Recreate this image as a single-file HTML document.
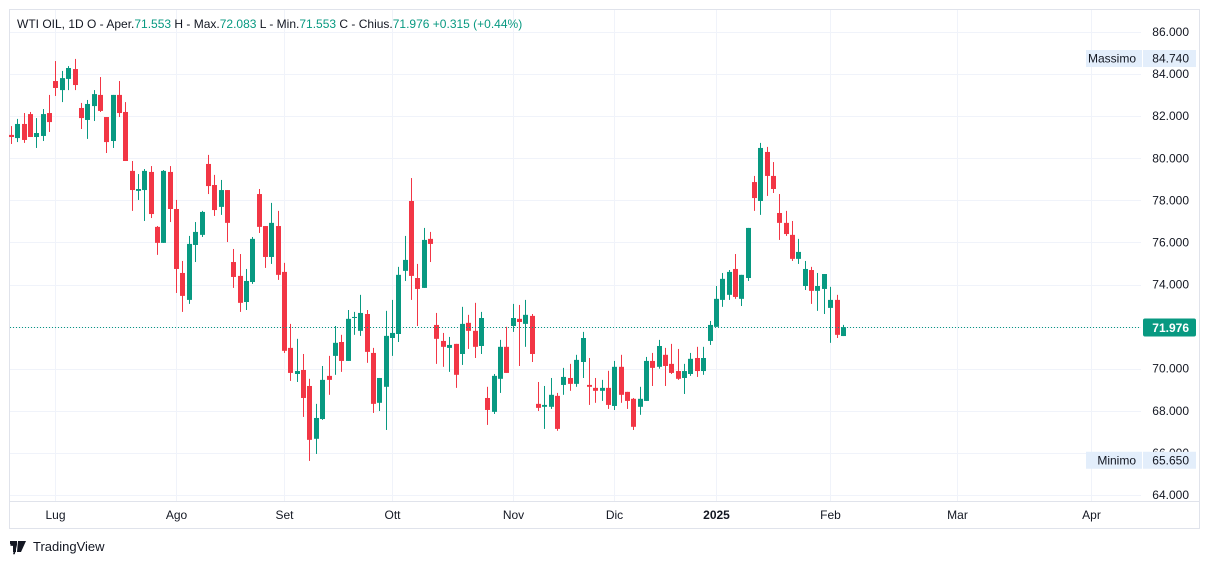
<!DOCTYPE html>
<html><head><meta charset="utf-8">
<style>
html,body{margin:0;padding:0;background:#fff;width:1209px;height:564px;overflow:hidden;font-family:"Liberation Sans",sans-serif;}
svg text{font-family:"Liberation Sans",sans-serif;}
</style></head>
<body>
<svg id="chart" width="1209" height="564" viewBox="0 0 1209 564" xmlns="http://www.w3.org/2000/svg">
  <rect x="9.5" y="9.5" width="1190" height="519" fill="#fff" stroke="#e0e3eb"/>
  <g id="grid"></g>
  <line x1="10" y1="501.5" x2="1199" y2="501.5" stroke="#e0e3eb"/>
  <g id="candles"></g>
  <g id="yaxis"></g>
  <g id="xaxis"></g>
  <text x="17" y="28" font-size="12" fill="#131722">WTI OIL, 1D  O - Aper.<tspan fill="#089981">71.553</tspan>  H - Max.<tspan fill="#089981">72.083</tspan>  L - Min.<tspan fill="#089981">71.553</tspan>  C - Chius.<tspan fill="#089981">71.976</tspan>  <tspan fill="#089981">+0.315 (+0.44%)</tspan></text>
  <g>
    <text x="10" y="552" font-size="15" font-weight="bold" fill="#131722">⁊</text>
    <rect x="10" y="541" width="7" height="3" fill="#131722"/><rect x="13" y="541" width="3" height="11" fill="#131722"/>
    <polygon points="18,541 26,541 21,552 17,552" fill="#131722"/>
    <text x="33" y="551" font-size="13" fill="#131722">TradingView</text>
  </g>
</svg>
<script>
const open  = [81.11,80.96,81.63,82.10,81.01,81.06,82.15,83.67,83.24,83.77,84.24,82.39,81.82,82.48,83.01,81.96,80.82,83.01,82.20,79.40,78.45,78.49,79.35,76.74,75.98,79.35,77.59,74.55,73.27,75.88,76.36,79.73,78.73,77.69,78.49,75.07,74.41,73.17,74.12,78.30,76.78,75.31,76.78,74.60,70.99,69.75,69.94,69.18,66.67,67.61,69.66,70.61,71.27,70.37,72.41,71.80,72.60,70.75,68.38,69.14,71.46,71.65,74.65,77.97,74.31,73.84,76.17,72.08,71.32,70.99,71.18,70.70,72.18,71.80,71.08,68.61,67.95,69.52,71.04,72.03,72.37,72.13,72.51,68.33,68.19,68.19,68.71,69.23,69.56,69.28,70.32,69.23,69.09,68.95,69.09,68.23,70.09,68.90,68.57,68.19,68.47,70.37,70.09,70.66,70.23,69.89,69.56,69.75,70.51,69.89,71.32,71.99,73.27,73.51,74.74,73.32,74.31,78.87,77.97,80.30,79.16,77.40,76.93,76.36,75.22,73.93,74.69,73.70,73.79,72.89,73.27,71.553];
const high  = [81.53,81.87,82.15,82.20,81.91,82.34,83.01,84.62,84.15,84.38,84.72,82.63,82.77,83.24,83.86,81.96,83.01,83.67,82.67,79.87,79.25,79.49,79.63,76.78,79.44,79.63,78.02,75.12,76.31,76.97,77.50,80.16,79.21,78.97,78.49,75.69,75.45,74.74,76.26,78.54,76.78,77.88,77.50,75.03,72.13,71.42,70.70,69.52,68.33,70.13,70.61,72.03,71.61,72.79,72.70,73.51,72.79,70.99,69.56,72.75,73.27,74.84,76.31,79.06,74.98,76.69,76.50,72.65,71.70,71.51,71.18,72.94,72.56,73.13,72.70,69.14,69.75,71.37,71.99,73.08,73.03,73.27,72.60,69.37,69.18,69.56,68.85,70.04,70.23,70.66,71.75,70.51,69.56,69.47,69.90,70.37,70.66,68.90,68.61,69.14,70.56,70.75,71.37,70.99,71.18,70.94,70.23,70.75,71.04,71.04,72.27,73.93,74.55,74.69,75.45,74.46,76.69,79.16,80.73,80.54,79.82,78.30,77.50,77.02,76.17,75.12,74.84,74.55,74.50,73.89,73.51,72.083];
const low   = [80.68,80.77,80.73,81.01,80.49,80.82,81.25,82.96,82.67,83.24,83.24,81.39,80.92,81.77,82.20,80.25,80.49,81.96,79.87,77.50,78.02,77.02,77.16,75.41,75.98,76.97,73.60,72.70,73.08,75.07,76.26,78.30,77.26,77.31,76.02,73.84,72.70,72.79,74.03,76.45,74.79,74.98,74.22,70.75,69.42,69.37,67.71,65.62,65.95,67.57,68.76,69.71,69.85,70.37,71.61,71.56,70.28,67.90,67.99,67.09,70.61,71.27,74.17,73.27,72.03,73.84,75.07,70.23,70.09,69.85,69.09,70.18,70.94,70.51,70.70,67.33,67.85,68.85,69.80,71.75,70.13,71.04,70.32,67.99,67.14,68.09,67.05,68.76,68.95,69.14,69.56,68.28,68.38,68.47,68.09,68.04,68.38,68.09,67.09,67.81,68.47,69.18,70.00,69.18,69.75,69.47,68.80,69.66,69.61,69.71,71.13,71.99,72.94,73.27,73.32,72.98,74.17,77.50,77.31,78.21,78.35,76.12,76.31,75.12,74.98,73.74,73.08,72.75,72.60,71.23,71.46,71.553];
const close = [81.01,81.63,80.87,81.01,81.20,82.10,81.72,83.34,83.81,84.29,83.48,81.91,82.58,83.05,82.25,80.77,83.01,82.15,79.87,78.49,78.54,79.40,77.35,75.98,79.40,77.59,74.74,73.46,75.93,76.50,77.45,78.68,77.54,78.49,76.93,74.36,73.13,74.17,76.17,76.74,75.31,76.93,74.46,70.85,69.80,69.89,68.61,66.62,67.66,69.47,69.47,71.23,70.37,72.37,72.46,72.65,70.80,68.33,69.56,71.56,71.70,74.46,75.17,74.41,73.79,76.12,75.93,71.42,71.04,71.13,69.71,72.13,71.80,71.04,72.41,68.04,69.66,71.04,69.80,72.41,72.22,72.56,70.70,68.14,68.28,68.76,67.14,69.61,69.28,70.42,71.46,69.14,68.95,69.09,68.28,70.09,68.76,68.47,67.24,68.57,70.37,70.04,71.08,70.13,69.80,69.52,69.89,70.47,69.89,70.51,72.08,73.32,74.27,74.60,73.41,74.46,76.69,78.11,80.49,79.16,78.54,76.93,76.40,75.22,75.55,74.74,73.70,73.93,74.50,73.27,71.61,71.976];
const priceTicks = [86,84,82,80,78,76,74,72,70,68,66,64];
const monthLabels = ["Lug","Ago","Set","Ott","Nov","Dic","2025","Feb","Mar","Apr"];
const monthBarIndex = [7,26,43,60,79,95,111,129,149,170];
const lastPrice = 71.976, maxPrice = 84.740, minPrice = 65.650;

const NS="http://www.w3.org/2000/svg";
const plotRight=1141;
function yScale(p){return 32+(86-p)*21.045;}
function xScale(i){return 11+i*6.35;}
function mk(tag,attrs,parent){const e=document.createElementNS(NS,tag);for(const k in attrs)e.setAttribute(k,attrs[k]);parent.appendChild(e);return e;}
const grid=document.getElementById('grid'),cg=document.getElementById('candles'),ya=document.getElementById('yaxis'),xa=document.getElementById('xaxis');
const svg=document.getElementById('chart');

priceTicks.forEach(p=>{
  const y=Math.round(yScale(p))+0.5;
  const l=mk('line',{x1:10,x2:plotRight,y1:y,y2:y,stroke:'#f0f3fa'},grid);
  
  
  const t=mk('text',{x:1189,y:yScale(p)+4,'font-size':12,'text-anchor':'end',fill:'#131722'},ya);
  
  
  t.textContent=p.toFixed(3);
});
monthLabels.forEach((m,k)=>{
  const x=Math.round(xScale(monthBarIndex[k]))+0.5;
  const l=mk('line',{x1:x,x2:x,y1:10,y2:501,stroke:'#f0f3fa'},grid);
  
  
  const t=mk('text',{x:x,y:519,'font-size':12,'text-anchor':'middle',fill:'#131722','font-weight':m==='2025'?'bold':'normal'},xa);
  
  
  t.textContent=m;
});
for(let i=0;i<open.length;i++){
  const up=close[i]>=open[i];const col=up?'#089981':'#f23645';
  const x=xScale(i);
  const g=mk('g',{},cg);
  
  
  mk('rect',{x:Math.round(x),y:yScale(high[i]),width:1,height:Math.max(1,yScale(low[i])-yScale(high[i])),fill:col},g);
  const top=yScale(Math.max(open[i],close[i])),bot=yScale(Math.min(open[i],close[i]));
  mk('rect',{x:Math.round(x)-2,y:top,width:5,height:Math.max(1,bot-top),fill:col},g);
}
// last price line
const ly=Math.round(yScale(lastPrice))+0.5;
const pl=mk('line',{x1:10,x2:plotRight,y1:ly,y2:ly,stroke:'#089981','stroke-dasharray':'1 2'},svg);


const pb=mk('rect',{x:1143,y:ly-9,width:53,height:18,rx:2,fill:'#089981'},svg);


const pt=mk('text',{x:1189,y:ly+4.5,'font-size':12,'font-weight':'bold','text-anchor':'end',fill:'#fff'},svg);


pt.textContent=lastPrice.toFixed(3);
function hiLo(name,label,v){
  const y=yScale(v);
  const a=mk('rect',{x:1086,y:y-8.5,width:56,height:17,fill:'#e3eefb'},svg);
  
  
  const b=mk('rect',{x:1143,y:y-8.5,width:53,height:17,fill:'#e3eefb'},svg);
  
  
  const t1=mk('text',{x:1136,y:y+4,'font-size':12,'text-anchor':'end',fill:'#131722'},svg);
  
  
  t1.textContent=label;
  const t2=mk('text',{x:1189,y:y+4,'font-size':12,'text-anchor':'end',fill:'#131722'},svg);
  
  
  t2.textContent=v.toFixed(3);
}
hiLo('max','Massimo',maxPrice);
hiLo('min','Minimo',minPrice);
</script>
</body></html>
